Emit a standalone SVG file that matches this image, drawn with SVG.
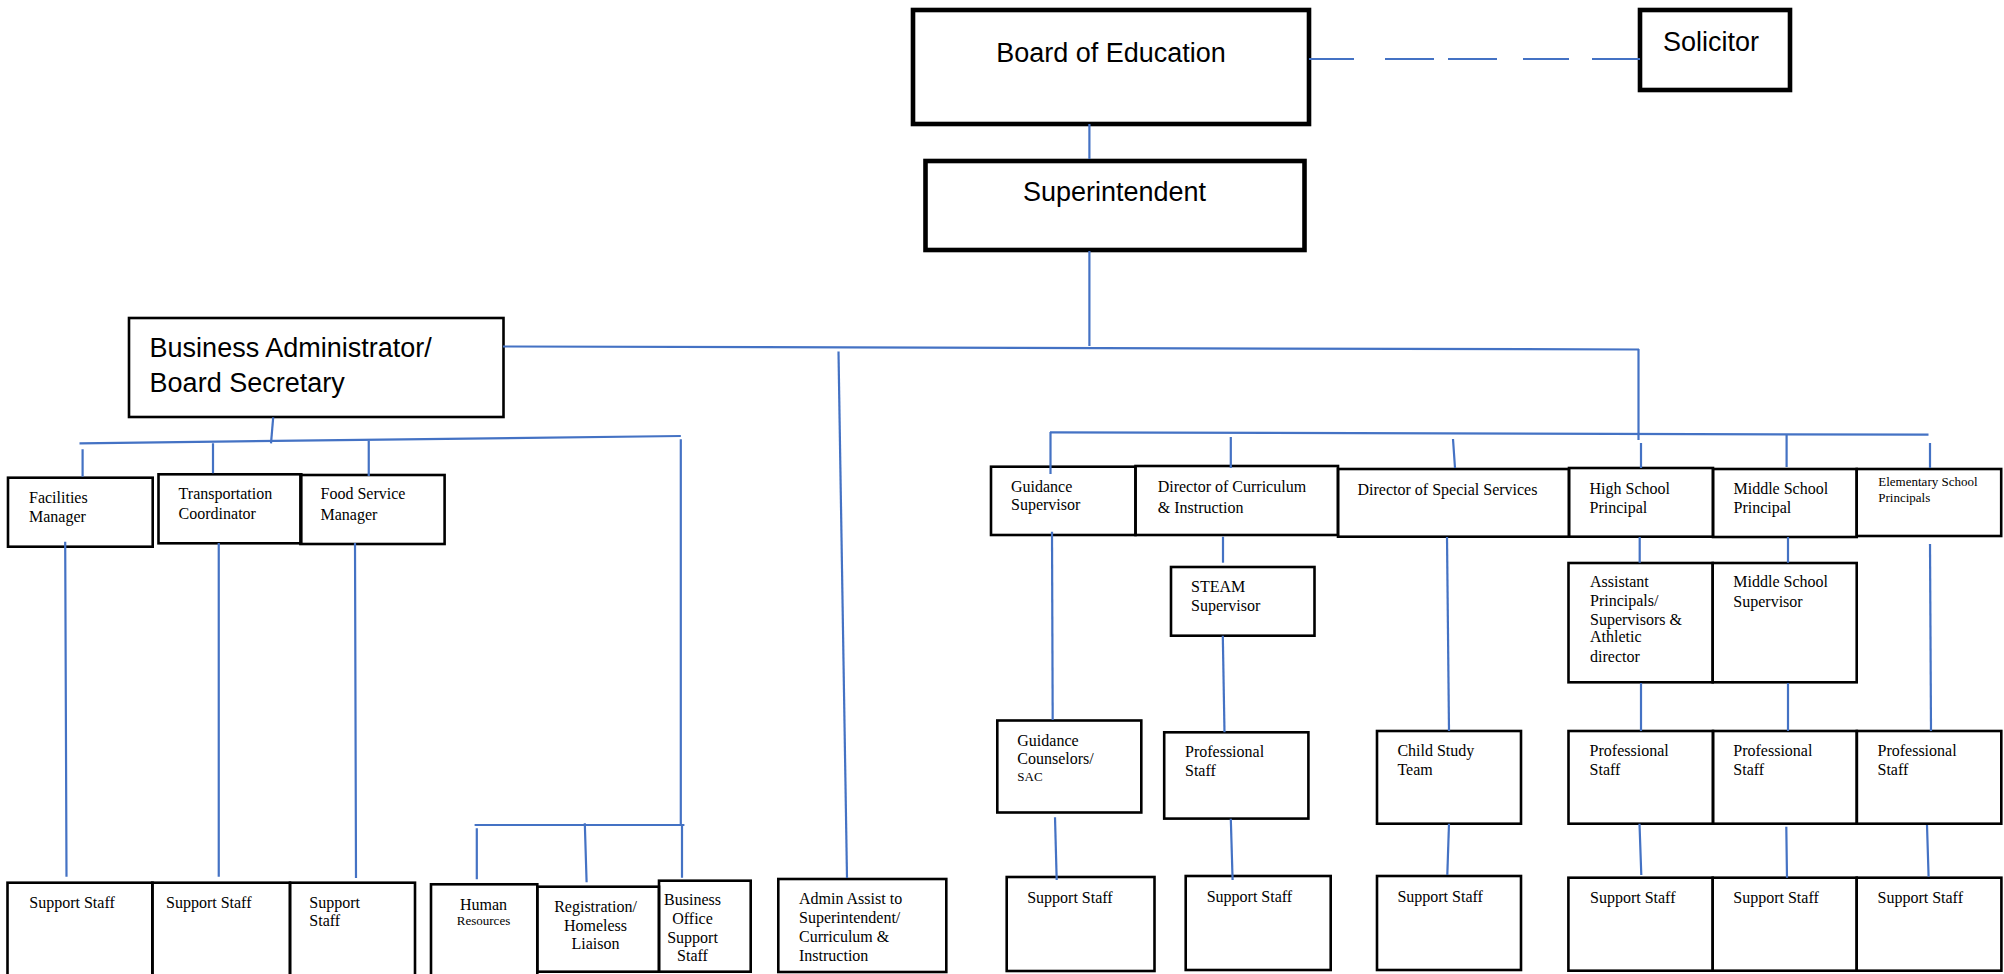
<svg xmlns="http://www.w3.org/2000/svg" width="2004" height="974" viewBox="0 0 2004 974">
<style>
.bg{fill:#ffffff}
.box{fill:none;stroke:#000;stroke-width:2.6}
.thick{fill:none;stroke:#000;stroke-width:4.6}
.big{font-family:"Liberation Sans",Arial,sans-serif;font-size:27px;fill:#000}
.t{font-family:"Liberation Serif","Times New Roman",serif;font-size:16px;fill:#000}
.s{font-family:"Liberation Serif","Times New Roman",serif;font-size:13px;fill:#000}
.c{text-anchor:middle}
.ln{fill:none;stroke:#4472C4;stroke-width:2.2}
</style>
<rect class="bg" x="0" y="0" width="2004" height="974"/>

<g id="board"><rect class="thick" x="913" y="10" width="396" height="114"/><text class="big c" x="1111" y="62">Board of Education</text></g>
<g id="solicitor"><rect class="thick" x="1640" y="10" width="150" height="80"/><text class="big" x="1663" y="51">Solicitor</text></g>
<g id="superintendent"><rect class="thick" x="925.5" y="161" width="379" height="89"/><text class="big c" x="1114.5" y="201">Superintendent</text></g>
<g id="business-admin"><rect class="box" x="129" y="318" width="374.5" height="99"/><text class="big" x="149.6" y="357">Business Administrator/</text><text class="big" x="149.6" y="392">Board Secretary</text></g>

<g id="facilities"><rect class="box" x="8" y="477.7" width="144.7" height="69"/><text class="t" x="29" y="503">Facilities</text><text class="t" x="29" y="522">Manager</text></g>
<g id="transportation"><rect class="box" x="158.5" y="474.3" width="142.8" height="69"/><text class="t" x="178.6" y="499.3">Transportation</text><text class="t" x="178.6" y="518.5">Coordinator</text></g>
<g id="food-service"><rect class="box" x="300.4" y="475" width="144.2" height="69"/><text class="t" x="320.5" y="499.3">Food Service</text><text class="t" x="320.5" y="520">Manager</text></g>

<g id="support-fac"><rect class="box" x="7.5" y="882.7" width="145" height="110"/><text class="t" x="29.3" y="908.3">Support Staff</text></g>
<g id="support-trans"><rect class="box" x="152.3" y="882.7" width="137.7" height="110"/><text class="t" x="166" y="908.3">Support Staff</text></g>
<g id="support-food"><rect class="box" x="290" y="882.7" width="125" height="110"/><text class="t" x="309.3" y="908.3">Support</text><text class="t" x="309.3" y="926">Staff</text></g>
<g id="human-resources"><rect class="box" x="431" y="884.3" width="106.3" height="110"/><text class="t c" x="483.5" y="910">Human</text><text class="s c" x="483.5" y="924.5">Resources</text></g>
<g id="registration"><rect class="box" x="537.3" y="886.7" width="121.7" height="85"/><text class="t c" x="595.5" y="911.7">Registration/</text><text class="t c" x="595.5" y="931">Homeless</text><text class="t c" x="595.5" y="949.3">Liaison</text></g>
<g id="business-office"><rect class="box" x="659" y="880.7" width="91.7" height="91"/><text class="t c" x="692.5" y="905">Business</text><text class="t c" x="692.5" y="924">Office</text><text class="t c" x="692.5" y="942.7">Support</text><text class="t c" x="692.5" y="960.7">Staff</text></g>
<g id="admin-assist"><rect class="box" x="778.3" y="879" width="168" height="93"/><text class="t" x="799" y="904.3">Admin Assist to</text><text class="t" x="799" y="923.3">Superintendent/</text><text class="t" x="799" y="942.3">Curriculum &amp;</text><text class="t" x="799" y="960.7">Instruction</text></g>

<g id="guidance-supervisor"><rect class="box" x="991" y="466.7" width="144.5" height="68.3"/><text class="t" x="1011" y="491.7">Guidance</text><text class="t" x="1011" y="509.5">Supervisor</text></g>
<g id="director-curriculum"><rect class="box" x="1135.5" y="466" width="202.5" height="69"/><text class="t" x="1157.7" y="492">Director of Curriculum</text><text class="t" x="1157.7" y="512.5">&amp; Instruction</text></g>
<g id="director-special"><rect class="box" x="1338" y="469" width="231" height="67.7"/><text class="t" x="1357.5" y="495">Director of Special Services</text></g>
<g id="hs-principal"><rect class="box" x="1569" y="468" width="144" height="68.7"/><text class="t" x="1589.5" y="494.3">High School</text><text class="t" x="1589.5" y="513.3">Principal</text></g>
<g id="ms-principal"><rect class="box" x="1713" y="469" width="143.7" height="68"/><text class="t" x="1733.5" y="494.3">Middle School</text><text class="t" x="1733.5" y="513.3">Principal</text></g>
<g id="es-principals"><rect class="box" x="1856.7" y="469" width="144.5" height="67"/><text class="s" x="1878.3" y="486">Elementary School</text><text class="s" x="1878.3" y="502">Principals</text></g>

<g id="steam"><rect class="box" x="1171" y="567" width="143.5" height="68.7"/><text class="t" x="1191" y="592">STEAM</text><text class="t" x="1191" y="610.7">Supervisor</text></g>
<g id="assistant-principals"><rect class="box" x="1568.5" y="563" width="144.2" height="119.3"/><text class="t" x="1590" y="587.3">Assistant</text><text class="t" x="1590" y="605.7">Principals/</text><text class="t" x="1590" y="624.7">Supervisors &amp;</text><text class="t" x="1590" y="642.3">Athletic</text><text class="t" x="1590" y="661.5">director</text></g>
<g id="ms-supervisor"><rect class="box" x="1712.7" y="563" width="144" height="119.3"/><text class="t" x="1733.3" y="587.3">Middle School</text><text class="t" x="1733.3" y="606.7">Supervisor</text></g>

<g id="guidance-counselors"><rect class="box" x="997.3" y="720.5" width="144" height="92"/><text class="t" x="1017.3" y="745.7">Guidance</text><text class="t" x="1017.3" y="763.5">Counselors/</text><text class="s" x="1017.3" y="781">SAC</text></g>
<g id="prof-steam"><rect class="box" x="1164.2" y="732.3" width="144.2" height="86.3"/><text class="t" x="1185" y="756.7">Professional</text><text class="t" x="1185" y="776">Staff</text></g>
<g id="child-study"><rect class="box" x="1377" y="731" width="144" height="92.7"/><text class="t" x="1397.4" y="756">Child Study</text><text class="t" x="1397.4" y="774.7">Team</text></g>
<g id="prof-hs"><rect class="box" x="1568.5" y="731" width="144.5" height="92.7"/><text class="t" x="1589.6" y="756">Professional</text><text class="t" x="1589.6" y="774.7">Staff</text></g>
<g id="prof-ms"><rect class="box" x="1713" y="731" width="143.8" height="92.7"/><text class="t" x="1733.3" y="756">Professional</text><text class="t" x="1733.3" y="774.7">Staff</text></g>
<g id="prof-es"><rect class="box" x="1856.8" y="731" width="144.5" height="92.7"/><text class="t" x="1877.5" y="756">Professional</text><text class="t" x="1877.5" y="774.7">Staff</text></g>

<g id="support-guidance"><rect class="box" x="1006.7" y="877" width="147.8" height="94"/><text class="t" x="1027.2" y="902.5">Support Staff</text></g>
<g id="support-steam"><rect class="box" x="1185.7" y="876" width="145" height="94"/><text class="t" x="1206.7" y="901.7">Support Staff</text></g>
<g id="support-cst"><rect class="box" x="1377" y="876" width="144" height="94"/><text class="t" x="1397.4" y="901.7">Support Staff</text></g>
<g id="support-hs"><rect class="box" x="1568.4" y="877.7" width="144.3" height="93"/><text class="t" x="1590" y="903.3">Support Staff</text></g>
<g id="support-ms"><rect class="box" x="1712.7" y="877.7" width="144" height="93"/><text class="t" x="1733.3" y="903.3">Support Staff</text></g>
<g id="support-es"><rect class="box" x="1856.7" y="877.7" width="144.7" height="93"/><text class="t" x="1877.5" y="903.3">Support Staff</text></g>

<g id="connectors">
<path class="ln" d="M1089.4 124V159"/>
<path class="ln" d="M1309 59H1354M1385 59H1434M1448 59H1497M1523 59H1569M1592 59H1640"/>
<path class="ln" d="M1089.4 251V346"/>
<path class="ln" d="M503 346.5L1639 349.5"/>
<path class="ln" d="M1638.5 349V440"/>
<path class="ln" d="M1050 432.3L1928.5 434.7"/>
<path class="ln" d="M1050.5 432V474M1230.8 437V468M1453 439L1455 468M1641 443V468M1786.6 435V467M1930 443V468"/>
<path class="ln" d="M838.5 351.5L847 878"/>
<path class="ln" d="M273.2 417.3L271 443.3"/>
<path class="ln" d="M79.5 443.3L680.8 436"/>
<path class="ln" d="M82.6 449.3V476.7M213 443.3V473.3M368.75 440.7V476"/>
<path class="ln" d="M680.8 439.3V825"/>
<path class="ln" d="M474.6 825H684.4"/>
<path class="ln" d="M476.8 828.3V879.3M584.8 823.3L586.6 882.3M682 825V877.7"/>
<path class="ln" d="M65.2 541.7L66.5 876.7M218.75 543V876.7M355 543L356 878"/>
<path class="ln" d="M1052 531.7L1052.7 720"/>
<path class="ln" d="M1055 817.3L1056.7 880"/>
<path class="ln" d="M1223 536.7V562.7"/>
<path class="ln" d="M1222.8 635.7L1224.5 732.3"/>
<path class="ln" d="M1230.8 818.7L1232.6 880"/>
<path class="ln" d="M1447 537L1449 731"/>
<path class="ln" d="M1449 823.7L1447.3 875"/>
<path class="ln" d="M1639.7 537V562.7M1788 537V562.7"/>
<path class="ln" d="M1641 683V731M1788 683V731"/>
<path class="ln" d="M1930 544L1931 731"/>
<path class="ln" d="M1639.5 823.7L1641.3 875M1786.3 826.7L1787 877.7M1927 825L1928.6 876.7"/>
</g>
</svg>
